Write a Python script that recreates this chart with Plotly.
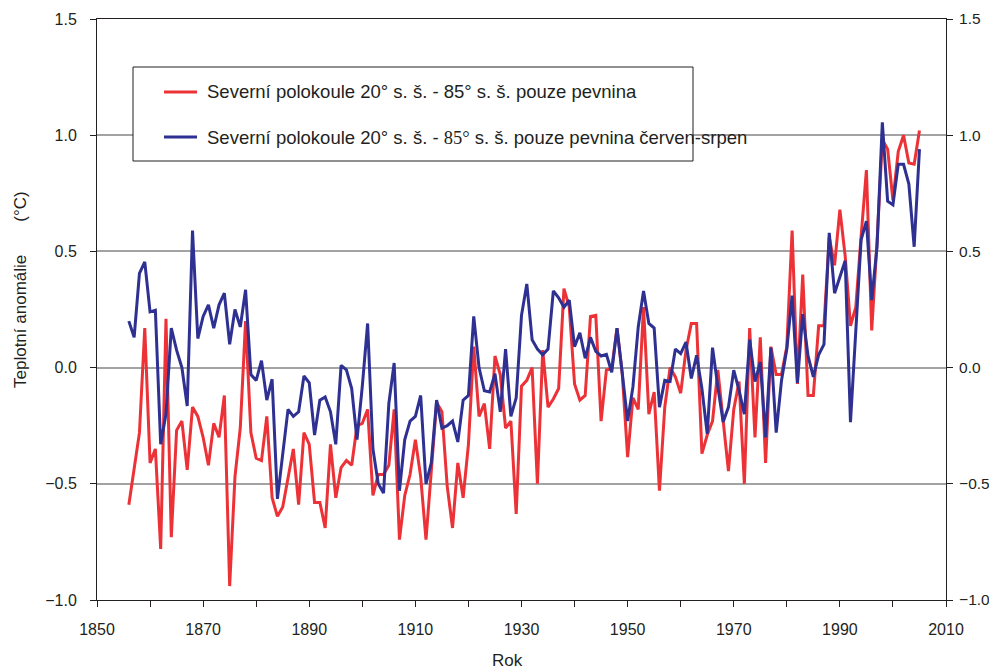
import plotly.graph_objects as go

years = list(range(1856, 2006))

annual_land = [
    -0.59, -0.43, -0.28, 0.17, -0.41, -0.35, -0.78, 0.21, -0.73, -0.27,   # 1856-1865
    -0.23, -0.44, -0.17, -0.21, -0.30, -0.42, -0.24, -0.30, -0.12, -0.94,  # 1866-1875
    -0.47, -0.26, 0.20, -0.28, -0.39, -0.40, -0.21, -0.56, -0.64, -0.60,   # 1876-1885
    -0.47, -0.35, -0.59, -0.28, -0.33, -0.58, -0.58, -0.69, -0.33, -0.56,  # 1886-1895
    -0.43, -0.40, -0.42, -0.25, -0.24, -0.18, -0.55, -0.46, -0.46, -0.42,  # 1896-1905
    -0.18, -0.74, -0.55, -0.46, -0.31, -0.47, -0.74, -0.43, -0.15, -0.19,  # 1906-1915
    -0.51, -0.69, -0.41, -0.56, -0.33, 0.09, -0.21, -0.155, -0.35, 0.05,   # 1916-1925
    -0.03, -0.26, -0.23, -0.63, -0.08, -0.055, 0.0, -0.50, 0.075, -0.17,   # 1926-1935
    -0.135, -0.09, 0.34, 0.26, -0.07, -0.14, -0.12, 0.22, 0.225, -0.23,    # 1936-1945
    -0.01, -0.005, 0.17, -0.03, -0.385, -0.13, -0.18, 0.26, -0.20, -0.105, # 1946-1955
    -0.53, -0.17, 0.0, -0.04, -0.11, 0.075, 0.19, 0.19, -0.37, -0.29,      # 1956-1965
    -0.23, -0.01, -0.24, -0.445, -0.18, -0.06, -0.50, 0.17, -0.30, 0.13,   # 1966-1975
    -0.41, 0.09, -0.03, -0.03, 0.09, 0.59, -0.07, 0.40, -0.12, -0.12,      # 1976-1985
    0.18, 0.18, 0.56, 0.44, 0.68, 0.48, 0.18, 0.26, 0.565, 0.85,           # 1986-1995
    0.16, 0.54, 0.98, 0.94, 0.72, 0.93, 1.00, 0.88, 0.875, 1.02,           # 1996-2005
]

summer_land = [
    0.20, 0.13, 0.405, 0.455, 0.24, 0.247, -0.33, -0.20, 0.17, 0.075,      # 1856-1865
    0.0, -0.165, 0.59, 0.125, 0.22, 0.27, 0.17, 0.27, 0.32, 0.10,          # 1866-1875
    0.25, 0.175, 0.335, -0.03, -0.055, 0.03, -0.14, -0.05, -0.565, -0.37,  # 1876-1885
    -0.18, -0.21, -0.19, -0.036, -0.066, -0.29, -0.14, -0.126, -0.19, -0.33,  # 1886-1895
    0.01, -0.01, -0.09, -0.31, -0.08, 0.19, -0.35, -0.50, -0.54, -0.155,   # 1896-1905
    0.02, -0.53, -0.31, -0.23, -0.21, -0.12, -0.50, -0.41, -0.14, -0.26,   # 1906-1915
    -0.25, -0.23, -0.32, -0.14, -0.12, 0.22, 0.0, -0.10, -0.105, -0.026,   # 1916-1925
    -0.19, 0.08, -0.21, -0.13, 0.225, 0.36, 0.12, 0.08, 0.055, 0.08,       # 1926-1935
    0.33, 0.30, 0.26, 0.29, 0.09, 0.15, 0.04, 0.13, 0.07, 0.05,            # 1936-1945
    0.057, -0.02, 0.17, -0.026, -0.23, -0.083, 0.175, 0.33, 0.19, 0.17,    # 1946-1955
    -0.17, -0.055, -0.06, 0.08, 0.06, 0.11, -0.047, 0.053, -0.09, -0.285,  # 1956-1965
    0.086, -0.083, -0.234, -0.17, -0.011, -0.098, -0.20, 0.12, -0.06, 0.024,  # 1966-1975
    -0.30, 0.086, -0.28, -0.055, 0.08, 0.31, -0.066, 0.23, 0.05, -0.04,    # 1976-1985
    0.055, 0.10, 0.58, 0.32, 0.39, 0.46, -0.235, 0.16, 0.55, 0.63,         # 1986-1995
    0.29, 0.52, 1.055, 0.716, 0.70, 0.875, 0.875, 0.79, 0.52, 0.94,        # 1996-2005
]

x_tick_vals = [1850, 1870, 1890, 1910, 1930, 1950, 1970, 1990, 2010]
y_tick_vals = [-1.0, -0.5, 0.0, 0.5, 1.0, 1.5]

name_annual = "Severní polokoule 20° s. š. - 85° s. š. pouze pevnina"
name_summer = ("Severní polokoule 20° s. š. - "
               "<span style='font-family:Liberation Serif'>85°</span>"
               " s. š. pouze pevnina červen-srpen")

RED = "#ec3237"
BLUE = "#2e3192"
INK = "#231f20"
FONT = "Liberation Sans, Arial, sans-serif"
TICK_SIZE = 16
RIGHT_TICK_SIZE = 15.5
TITLE_SIZE = 17
LEG_SIZE = 18.5

W, H = 989, 670
L, R, T, B = 97, 43, 19, 70
PW, PH = W - L - R, H - T - B


def px_x(px):
    return (px - L) / PW


def px_y(py):
    return (H - B - py) / PH


fig = go.Figure()
fig.add_trace(go.Scatter(x=years, y=annual_land, mode="lines",
                         line=dict(color=RED, width=3), showlegend=False,
                         yaxis="y"))
fig.add_trace(go.Scatter(x=years, y=summer_land, mode="lines",
                         line=dict(color=BLUE, width=3), showlegend=False,
                         yaxis="y2"))

axis_common = dict(
    range=[-1.0, 1.5], tickvals=y_tick_vals, tickformat=".1f",
    showline=True, linecolor=INK, linewidth=1,
    ticks="outside", ticklen=6, tickcolor=INK, tickwidth=1,
    zeroline=False, fixedrange=True, automargin=False,
)

fig.update_layout(
    width=W, height=H,
    margin=dict(l=L, r=R, t=T, b=B, pad=0, autoexpand=False),
    paper_bgcolor="white", plot_bgcolor="white",
    font=dict(family=FONT, size=15, color=INK),
    xaxis=dict(
        range=[1850, 2010], tickvals=x_tick_vals,
        showline=True, linecolor=INK, linewidth=1, mirror=True,
        ticks="outside", ticklen=6, tickcolor=INK,
        minor=dict(dtick=10, tick0=1850, ticks="outside", ticklen=6, tickcolor=INK, showgrid=False),
        showgrid=False, zeroline=False, automargin=False,
        tickfont=dict(family=FONT, size=TICK_SIZE, color=INK),
        ticklabelstandoff=9,
    ),
    yaxis=dict(**axis_common, showgrid=True, gridcolor="#a3a3a3", gridwidth=1.5,
               tickfont=dict(family=FONT, size=TICK_SIZE, color=INK),
               ticklabelstandoff=10),
    yaxis2=dict(**axis_common, overlaying="y", side="right", showgrid=False,
                tickfont=dict(family=FONT, size=RIGHT_TICK_SIZE, color=INK),
                ticklabelstandoff=3),
)

# axis titles
fig.add_annotation(x=px_x(20), y=px_y(290), xref="paper", yref="paper",
                   xanchor="center", yanchor="middle",
                   text="Teplotní anomálie\u00a0\u00a0\u00a0\u00a0\u00a0\u00a0\u00a0(°C)",
                   textangle=-90, showarrow=False,
                   font=dict(family=FONT, size=TITLE_SIZE, color=INK))
fig.add_annotation(x=px_x(507), y=px_y(660), xref="paper", yref="paper",
                   xanchor="center", yanchor="middle",
                   text="Rok", showarrow=False,
                   font=dict(family=FONT, size=TITLE_SIZE, color=INK))

# legend box drawn manually (text overflows the frame in the original)
fig.add_shape(type="rect", xref="paper", yref="paper",
              x0=px_x(133), x1=px_x(693), y0=px_y(161), y1=px_y(67),
              line=dict(color=INK, width=1), fillcolor="white", layer="above")
for py, col, txt in [(92, RED, name_annual), (137, BLUE, name_summer)]:
    fig.add_shape(type="line", xref="paper", yref="paper",
                  x0=px_x(164), x1=px_x(197), y0=px_y(py), y1=px_y(py),
                  line=dict(color=col, width=3), layer="above")
    fig.add_annotation(x=px_x(205), y=px_y(py), xref="paper", yref="paper",
                       text=txt, showarrow=False, xanchor="left", yanchor="middle",
                       font=dict(family=FONT, size=LEG_SIZE, color=INK))

fig.write_html("out.html")
